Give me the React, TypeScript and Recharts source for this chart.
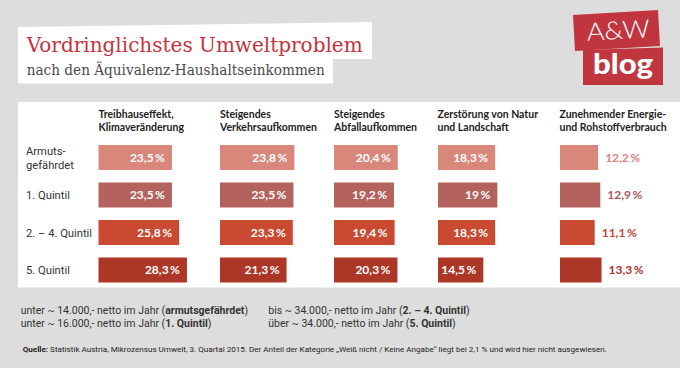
import React from 'react';
import { BarChart, Bar, XAxis, YAxis, LabelList, Cell } from 'recharts';

// ---------- data ----------
const rowLabels = ['Armuts-\ngefährdet', '1. Quintil', '2. – 4. Quintil', '5. Quintil'];
const categories = [
  ['Treibhauseffekt,', 'Klimaveränderung'],
  ['Steigendes', 'Verkehrsaufkommen'],
  ['Steigendes', 'Abfallaufkommen'],
  ['Zerstörung von Natur', 'und Landschaft'],
  ['Zunehmender Energie-', 'und Rohstoffverbrauch'],
];
const treibhaus = [23.5, 23.5, 25.8, 28.3];
const verkehr = [23.8, 23.5, 23.3, 21.3];
const abfall = [20.4, 19.2, 19.4, 20.3];
const natur = [18.3, 19, 18.3, 14.5];
const energie = [12.2, 12.9, 11.1, 13.3];
const seriesValues = [treibhaus, verkehr, abfall, natur, energie];

const titleText = 'Vordringlichstes Umweltproblem';
const subtitleText = 'nach den Äquivalenz-Haushaltseinkommen';

// ---------- style ----------
const BG = '#dddddd';
const ROW_COLORS = ['#d9867b', '#b3625e', '#c94a30', '#ad3727'];
const OUT_COLORS = ['#d9867b', '#ad5a5c', '#c24637', '#a83230'];
const PANEL_X = 18;
const COL_X = [98.5, 220, 334, 437.5, 559.5];
const PLOT_W = 125;
const CHART_TOP = 138.5;
const CHART_H = 150;

const fmt = (v: number) => `${String(v).replace('.', ',')}\u2009%`;

const RowTick = (props: any) => {
  const { y, payload } = props;
  const lines = String(payload.value).split('\n');
  const baseY = lines.length > 1 ? [-2.3, 11] : [4.2];
  return (
    <g>
      {lines.map((l, i) => (
        <text key={i} x={8} y={y + baseY[i]} textAnchor="start" fontFamily="Roboto" fontSize={11.2} fill="#333">
          {l}
        </text>
      ))}
    </g>
  );
};

const makeLabel = (outside: boolean) => (p: any) => {
  const { x, y, width, height, value, index } = p;
  const cy = Number(y) + Number(height) / 2 + 4.4;
  if (outside) {
    return (
      <text x={Number(x) + Number(width) + 7} y={cy} textAnchor="start" fontFamily="Lato" fontWeight={700} fontSize={12} fill={OUT_COLORS[index ?? 0]}>
        {fmt(value)}
      </text>
    );
  }
  return (
    <text x={Number(x) + Number(width) - 7} y={cy} textAnchor="end" fontFamily="Lato" fontWeight={700} fontSize={12} fill="#ffffff">
      {fmt(value)}
    </text>
  );
};

function Column({ idx }: { idx: number }) {
  const values = seriesValues[idx];
  const data = rowLabels.map((r, i) => ({ row: r, value: values[i] }));
  const first = idx === 0;
  const left = first ? PANEL_X : COL_X[idx];
  const yw = first ? COL_X[0] - PANEL_X : 0;
  return (
    <div style={{ position: 'absolute', left, top: CHART_TOP }}>
      <BarChart
        width={yw + PLOT_W}
        height={CHART_H}
        data={data}
        layout="vertical"
        margin={{ top: 0, right: 0, bottom: 0, left: 0 }}
      >
        <XAxis type="number" domain={[0, 40]} hide />
        <YAxis
          type="category"
          dataKey="row"
          hide={!first}
          width={yw}
          axisLine={false}
          tickLine={false}
          interval={0}
          tick={first ? RowTick : false}
        />
        <Bar dataKey="value" barSize={25} isAnimationActive={false}>
          {data.map((_, i) => (
            <Cell key={i} fill={ROW_COLORS[i]} />
          ))}
          <LabelList dataKey="value" content={makeLabel(idx === 4)} />
        </Bar>
      </BarChart>
    </div>
  );
}

export default function App() {
  return (
    <div style={{ position: 'absolute', left: 0, top: 0, width: 680, height: 368, background: BG, overflow: 'hidden' }}>
      <svg width={680} height={368} style={{ position: 'absolute', left: 0, top: 0 }}>
        {/* title boxes */}
        <polygon points="18,27 372,22 372,59 333,59 333,83.5 18,83.5" fill="#ffffff" />
        <text x={26.7} y={52} fontFamily="DejaVu Serif" fontSize={20} fill="#c8323c" textLength={336} lengthAdjust="spacingAndGlyphs">
          {titleText}
        </text>
        <text x={26.7} y={75} fontFamily="DejaVu Serif" fontSize={15} fill="#4a4a4a" textLength={298} lengthAdjust="spacingAndGlyphs">
          {subtitleText}
        </text>

        {/* logo */}
        <polygon points="573,15 658,10 660,46 575,51" fill="#c1353f" />
        <polygon points="583,50 663,47.5 663,85 583,85" fill="#c1353f" />
        <text x={586.7} y={39} fontFamily="Lato" fontWeight={300} fontSize={25} fill="#ffffff" textLength={63} lengthAdjust="spacingAndGlyphs" transform="rotate(-3 618 30)">
          A&amp;W
        </text>
        <text x={593} y={74} fontFamily="Lato" fontWeight={900} fontSize={28} fill="#ffffff" textLength={60} lengthAdjust="spacingAndGlyphs">
          blog
        </text>

        {/* panel */}
        <rect x={PANEL_X} y={102} width={680 - PANEL_X} height={185.5} fill="#ffffff" />

        {/* headers */}
        {categories.map((lines, i) => (
          <g key={i}>
            {lines.map((l, j) => (
              <text key={j} x={COL_X[i]} y={118.3 + j * 12.7} fontFamily="Lato" fontWeight={700} fontSize={10.5} fill="#222">
                {l}
              </text>
            ))}
          </g>
        ))}

        {/* footer */}
        <g fontFamily="Roboto" fontSize={10.5} fill="#333">
          <text x={20.7} y={314}>
            unter ~ 14.000,- netto im Jahr (<tspan fontWeight={700}>armutsgefährdet</tspan>)
          </text>
          <text x={20.7} y={327}>
            unter ~ 16.000,- netto im Jahr (<tspan fontWeight={700}>1. Quintil</tspan>)
          </text>
          <text x={268.3} y={314}>
            bis ~ 34.000,- netto im Jahr (<tspan fontWeight={700}>2. – 4. Quintil</tspan>)
          </text>
          <text x={268.3} y={327}>
            über ~ 34.000,- netto im Jahr (<tspan fontWeight={700}>5. Quintil</tspan>)
          </text>
        </g>
        <text x={22.7} y={351.5} fontFamily="Roboto" fontSize={8.1} fill="#222">
          <tspan fontWeight={700}>Quelle:</tspan> Statistik Austria, Mikrozensus Umwelt, 3. Quartal 2015. Der Anteil der Kategorie „Weiß nicht / Keine Angabe“ liegt bei 2,1 % und wird hier nicht ausgewiesen.
        </text>
      </svg>
      {seriesValues.map((_, i) => (
        <Column key={i} idx={i} />
      ))}
    </div>
  );
}
